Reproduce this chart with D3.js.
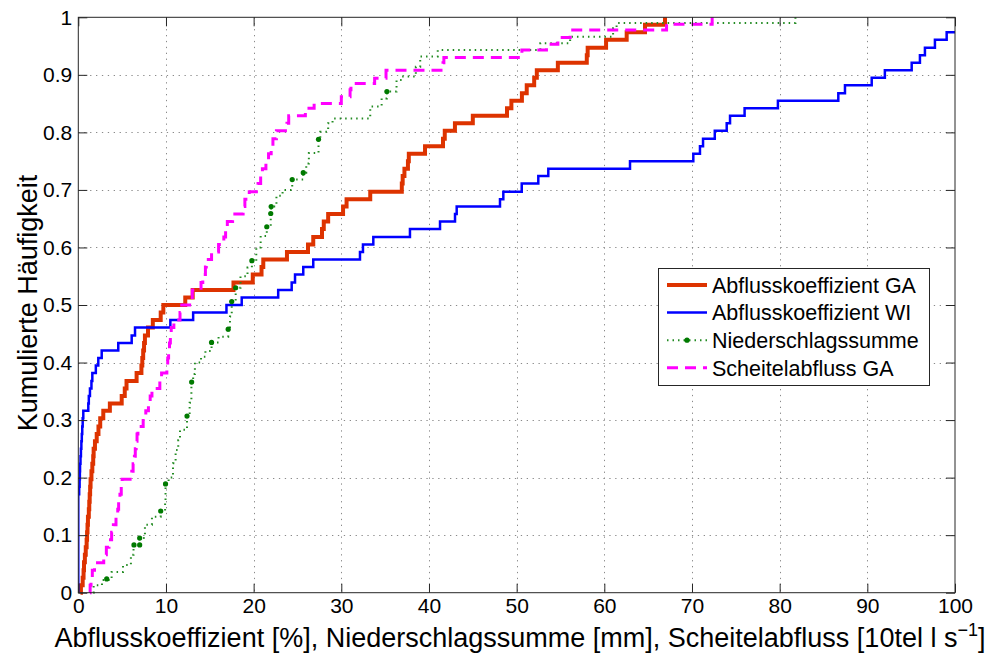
<!DOCTYPE html>
<html>
<head>
<meta charset="utf-8">
<script src="https://cdn.jsdelivr.net/npm/d3@7"></script>
<style>
  body { margin: 0; background: #fff; }
  svg { display: block; font-family: "Liberation Sans", Arial, Helvetica, sans-serif; }
</style>
</head>
<body>
<div id="chart"></div>
<script>
// step points [x, cumulative frequency]
const abflussGA = [
  [0.25,0],[0.3,0.013],[0.5,0.026],[0.6,0.039],[0.65,0.053],[0.75,0.066],[0.85,0.079],[0.95,0.092],
  [1.0,0.105],[1.05,0.118],[1.1,0.132],[1.2,0.145],[1.25,0.158],[1.3,0.171],[1.35,0.184],[1.4,0.197],
  [1.5,0.211],[1.6,0.224],[1.7,0.237],[1.75,0.25],[1.9,0.263],[2.1,0.276],[2.3,0.289],[2.5,0.303],
  [2.85,0.316],[3.6,0.329],[4.95,0.342],[5.3,0.355],[5.5,0.368],[6.65,0.382],[7.2,0.395],[7.3,0.408],
  [7.4,0.421],[7.5,0.434],[7.6,0.447],[7.95,0.461],[8.5,0.474],[9.4,0.487],[9.7,0.5],[12.2,0.513],
  [13.05,0.526],[17.7,0.539],[19.9,0.553],[20.9,0.566],[21.1,0.579],[23.8,0.592],[26.2,0.605],
  [26.8,0.618],[27.8,0.632],[28.0,0.645],[28.5,0.658],[30.2,0.671],[30.6,0.684],[33.3,0.697],
  [36.9,0.711],[37.0,0.724],[37.2,0.737],[37.6,0.75],[37.7,0.763],[39.55,0.776],[41.6,0.789],
  [41.8,0.803],[42.96,0.816],[45.0,0.829],[48.9,0.842],[49.4,0.855],[50.6,0.868],[51.15,0.882],
  [52.0,0.895],[52.3,0.908],[54.7,0.921],[58.0,0.934],[58.1,0.947],[60.2,0.961],[62.55,0.974],
  [64.64,0.987],[66.92,1.0]
];

const abflussWI = [
  [0,0],[0,0.171],[0.1,0.184],[0.15,0.197],[0.18,0.211],[0.2,0.224],[0.25,0.237],[0.3,0.25],
  [0.35,0.263],[0.4,0.276],[0.45,0.289],[0.5,0.303],[0.57,0.316],[1.14,0.329],[1.2,0.342],
  [1.33,0.355],[1.5,0.368],[1.6,0.382],[2.0,0.395],[2.28,0.408],[2.67,0.421],[4.56,0.434],
  [6.09,0.447],[6.47,0.461],[10.5,0.474],[13.1,0.487],[16.9,0.5],[18.64,0.513],[22.8,0.526],
  [24.34,0.539],[24.72,0.553],[25.66,0.566],[26.8,0.579],[32.13,0.592],[32.47,0.605],[33.65,0.618],
  [37.83,0.632],[41.26,0.645],[42.97,0.658],[43.16,0.671],[48.1,0.684],[48.48,0.697],[50.58,0.711],
  [52.47,0.724],[53.61,0.737],[62.93,0.75],[70.15,0.763],[70.91,0.776],[71.26,0.789],[72.6,0.803],
  [73.96,0.816],[74.34,0.829],[76.0,0.842],[79.8,0.855],[86.69,0.868],[87.45,0.882],[90.5,0.895],
  [92.0,0.908],[95.06,0.921],[96.0,0.934],[96.57,0.947],[97.71,0.961],[99.05,0.974],[101,0.987]
];

const niederschlag = [
  [1.71,0],[1.75,0.013],[2.7,0.022],[3.8,0.036],[5.1,0.048],[6.0,0.066],[6.3,0.083],[7.0,0.095],
  [7.6,0.118],[8.4,0.132],[9.4,0.142],[9.9,0.161],[9.95,0.189],[10.3,0.2],[10.8,0.225],[11.1,0.248],
  [11.4,0.265],[11.6,0.283],[12.4,0.307],[12.7,0.33],[12.9,0.366],[13.1,0.38],[13.3,0.4],[14.0,0.41],
  [14.5,0.42],[15.2,0.435],[16.0,0.445],[17.1,0.458],[17.3,0.48],[17.5,0.506],[17.95,0.53],[18.5,0.55],
  [19.3,0.565],[19.8,0.577],[20.3,0.6],[20.8,0.62],[21.5,0.636],[21.95,0.659],[22.0,0.671],[22.6,0.69],
  [23.3,0.7],[24.4,0.718],[25.66,0.73],[26.0,0.746],[26.3,0.764],[27.4,0.788],[27.6,0.801],[28.5,0.816],
  [29.0,0.824],[33.3,0.845],[34.6,0.859],[35.2,0.871],[36.3,0.891],[36.9,0.897],[38.5,0.914],
  [39.0,0.932],[41.0,0.943],[52.7,0.955],[56.1,0.966],[61.0,0.981],[61.4,0.99],[81.8,1.0]
];

const niederschlagDots = [
  [3.24,0.024],[6.35,0.083],[7.0,0.083],[7.0,0.095],[9.4,0.142],[9.95,0.189],[12.4,0.307],
  [12.93,0.366],[15.2,0.435],[17.1,0.458],[17.5,0.506],[17.95,0.53],[19.8,0.577],[21.5,0.636],
  [21.95,0.659],[22.0,0.671],[24.4,0.718],[25.66,0.73],[27.4,0.788],[35.2,0.871]
];

const scheitelGA = [
  [1.33,0],[1.35,0.013],[1.45,0.026],[1.6,0.039],[1.85,0.052],[2.9,0.066],[3.2,0.079],[3.5,0.092],
  [3.8,0.105],[4.0,0.118],[4.3,0.132],[4.5,0.145],[4.6,0.158],[4.75,0.171],[4.9,0.184],[5.0,0.197],
  [6.1,0.211],[6.25,0.224],[6.4,0.237],[6.5,0.25],[6.6,0.263],[6.7,0.276],[6.8,0.289],[7.4,0.303],
  [7.7,0.316],[8.0,0.329],[8.2,0.342],[8.4,0.355],[9.3,0.368],[9.5,0.382],[10.1,0.395],[10.2,0.408],
  [10.3,0.421],[10.4,0.434],[10.5,0.447],[10.6,0.461],[10.9,0.474],[11.6,0.487],[11.8,0.5],
  [12.7,0.513],[13.0,0.526],[14.0,0.539],[14.2,0.553],[14.5,0.566],[14.6,0.579],[15.2,0.592],
  [16.0,0.605],[16.6,0.618],[16.8,0.632],[17.0,0.645],[17.6,0.658],[18.8,0.671],[19.0,0.684],
  [19.5,0.697],[20.5,0.711],[20.8,0.724],[21.0,0.737],[21.4,0.75],[21.7,0.763],[22.0,0.776],
  [22.2,0.789],[22.6,0.803],[23.8,0.816],[24.0,0.829],[25.9,0.842],[26.9,0.85],[30.0,0.862],
  [31.0,0.874],[31.1,0.885],[33.8,0.894],[35.1,0.908],[41.6,0.921],[41.7,0.93],[50.6,0.943],
  [53.4,0.953],[54.7,0.965],[56.1,0.978],[67.1,0.988],[72.3,1.0]
];

const seriesNames = ["Abflusskoeffizient GA", "Abflusskoeffizient WI", "Niederschlagssumme", "Scheitelabfluss GA"];

const xTicks = [0, 10, 20, 30, 40, 50, 60, 70, 80, 90, 100];
const xTickLabels = ["0", "10", "20", "30", "40", "50", "60", "70", "80", "90", "100"];
const yTicks = [0, 0.1, 0.2, 0.3, 0.4, 0.5, 0.6, 0.7, 0.8, 0.9, 1];
const yTickLabels = ["0", "0.1", "0.2", "0.3", "0.4", "0.5", "0.6", "0.7", "0.8", "0.9", "1"];

const width = 990;
const height = 657;
const plot = { left: 78.3, right: 955, top: 17.3, bottom: 592.7 };

const svg = d3.select("#chart")
  .append("svg")
  .attr("width", width)
  .attr("height", height);

const x = d3.scaleLinear().domain([0, 100]).range([plot.left, plot.right]);
const y = d3.scaleLinear().domain([0, 1]).range([plot.bottom, plot.top]);

// grid
const grid = svg.append("g")
  .attr("stroke", "#8a8a8a")
  .attr("stroke-width", 1)
  .attr("stroke-dasharray", "1.3,4.6");

grid.selectAll(".gx")
  .data(xTicks.slice(1, -1))
  .enter().append("line")
  .attr("x1", d => Math.round(x(d)) + 0.5)
  .attr("x2", d => Math.round(x(d)) + 0.5)
  .attr("y1", plot.top)
  .attr("y2", plot.bottom);

grid.selectAll(".gy")
  .data(yTicks.slice(1, -1))
  .enter().append("line")
  .attr("x1", plot.left)
  .attr("x2", plot.right)
  .attr("y1", d => Math.round(y(d)) + 0.5)
  .attr("y2", d => Math.round(y(d)) + 0.5);

svg.append("clipPath").attr("id", "clip")
  .append("rect")
  .attr("x", plot.left).attr("y", plot.top - 3)
  .attr("width", plot.right - plot.left)
  .attr("height", plot.bottom - plot.top + 6);

const line = d3.line()
  .x(d => x(d[0]))
  .y(d => y(d[1]))
  .curve(d3.curveStepAfter);

const lines = svg.append("g").attr("clip-path", "url(#clip)").attr("fill", "none");

const styles = [
  { data: abflussGA, color: "#dd3300", width: 4, dash: null },
  { data: abflussWI, color: "#0000ff", width: 2.5, dash: null },
  { data: niederschlag, color: "#228b22", width: 2, dash: "1.5,4" },
  { data: scheitelGA, color: "#ff00ff", width: 3, dash: "11,7" }
];

styles.forEach(s => {
  lines.append("path")
    .datum(s.data)
    .attr("d", line)
    .attr("stroke", s.color)
    .attr("stroke-width", s.width)
    .attr("stroke-dasharray", s.dash);
});

lines.selectAll(".dot")
  .data(niederschlagDots)
  .enter().append("circle")
  .attr("cx", d => x(d[0]))
  .attr("cy", d => y(d[1]))
  .attr("r", 2.6)
  .attr("fill", "#007a00");

// axes, ticks inside like matlab
const axisColor = "#262626";

function styleAxis(g) {
  g.select(".domain").remove();
  g.selectAll(".tick line").attr("stroke", axisColor);
  g.selectAll("text")
    .attr("fill", "#000")
    .style("font-size", "21px")
    .style("font-family", "\"Liberation Sans\", Arial, Helvetica, sans-serif");
}

svg.append("g")
  .attr("transform", `translate(0,${plot.bottom})`)
  .call(d3.axisBottom(x).tickValues(xTicks).tickFormat((d, i) => xTickLabels[i])
    .tickSizeInner(-9).tickSizeOuter(0).tickPadding(5))
  .call(styleAxis);

svg.append("g")
  .attr("transform", `translate(0,${plot.top})`)
  .call(d3.axisTop(x).tickValues(xTicks).tickFormat("").tickSizeInner(-9).tickSizeOuter(0))
  .call(styleAxis);

svg.append("g")
  .attr("transform", `translate(${plot.left},0)`)
  .call(d3.axisLeft(y).tickValues(yTicks).tickFormat((d, i) => yTickLabels[i])
    .tickSizeInner(-9).tickSizeOuter(0).tickPadding(6))
  .call(styleAxis);

svg.append("g")
  .attr("transform", `translate(${plot.right},0)`)
  .call(d3.axisRight(y).tickValues(yTicks).tickFormat("").tickSizeInner(-9).tickSizeOuter(0))
  .call(styleAxis);

svg.append("rect")
  .attr("x", plot.left).attr("y", plot.top)
  .attr("width", plot.right - plot.left)
  .attr("height", plot.bottom - plot.top)
  .attr("fill", "none")
  .attr("stroke", axisColor)
  .attr("stroke-width", 1);

// legend
const legend = svg.append("g").attr("transform", "translate(658.5,268.5)");
legend.append("rect")
  .attr("width", 271).attr("height", 117)
  .attr("fill", "#fff")
  .attr("stroke", axisColor);

seriesNames.forEach((name, i) => {
  const ly = 16.5 + i * 27.6;
  const s = styles[i];
  legend.append("line")
    .attr("x1", 8.5).attr("x2", 48.5)
    .attr("y1", ly).attr("y2", ly)
    .attr("stroke", s.color)
    .attr("stroke-width", s.width)
    .attr("stroke-dasharray", s.dash);
  if (i === 2) {
    legend.append("circle").attr("cx", 28.5).attr("cy", ly).attr("r", 2.6).attr("fill", "#007a00");
  }
  legend.append("text")
    .attr("x", 53.5).attr("y", ly)
    .attr("dy", "0.36em")
    .style("font-size", "21.5px")
    .text(name);
});

// axis labels
const xLabel = svg.append("text")
  .attr("x", 520).attr("y", 647)
  .attr("text-anchor", "middle")
  .style("font-size", "27px");
xLabel.append("tspan").text("Abflusskoeffizient [%], Niederschlagssumme [mm], Scheitelabfluss [10tel l s");
xLabel.append("tspan").attr("dy", -11).style("font-size", "18px").text("\u22121");
xLabel.append("tspan").attr("dy", 11).text("]");

svg.append("text")
  .attr("transform", "translate(37,303) rotate(-90)")
  .attr("text-anchor", "middle")
  .style("font-size", "27px")
  .text("Kumulierte Häufigkeit");
</script>
</body>
</html>
